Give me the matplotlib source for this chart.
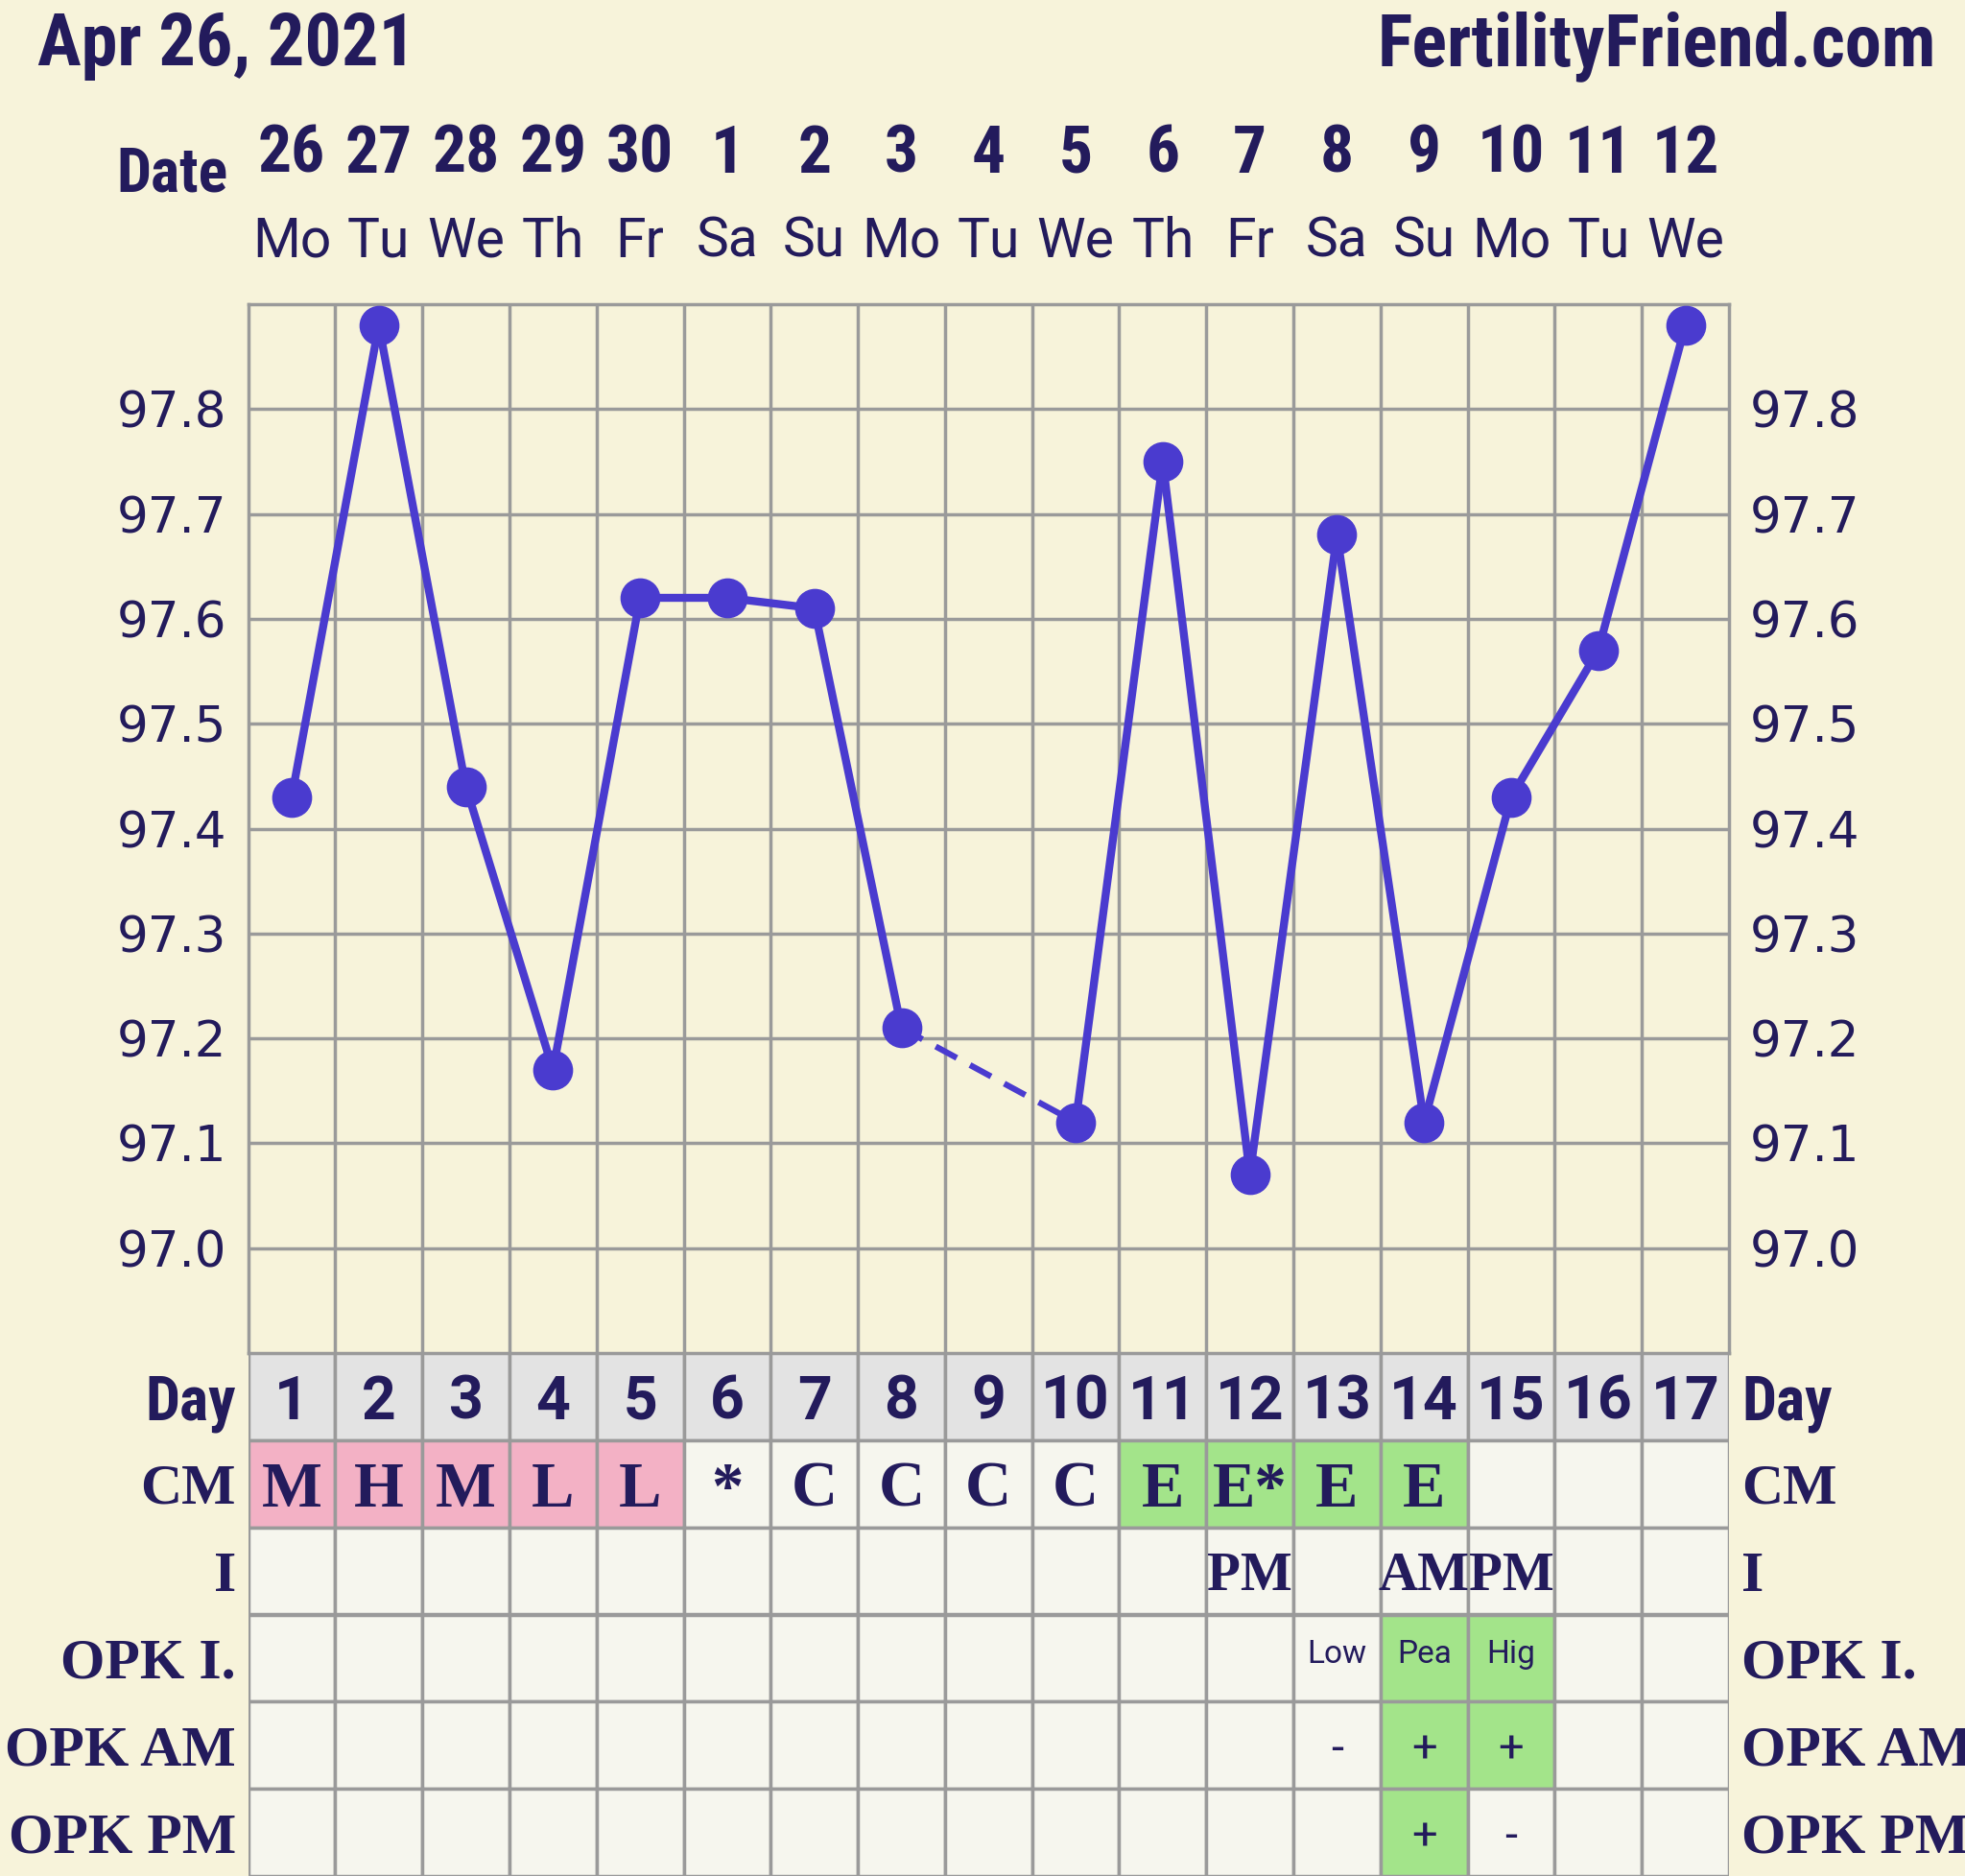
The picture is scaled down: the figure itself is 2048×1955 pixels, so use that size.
import matplotlib.pyplot as plt
import numpy as np
from matplotlib import font_manager
from matplotlib.transforms import blended_transform_factory

# chart data
cycle_days = list(range(1, 18))
dates = ['26', '27', '28', '29', '30', '1', '2', '3', '4', '5', '6', '7', '8', '9', '10', '11', '12']
weekdays = ['Mo', 'Tu', 'We', 'Th', 'Fr', 'Sa', 'Su', 'Mo', 'Tu', 'We', 'Th', 'Fr', 'Sa', 'Su', 'Mo', 'Tu', 'We']
temps = [97.43, 97.88, 97.44, 97.17, 97.62, 97.62, 97.61, 97.21, np.nan, 97.12,
         97.75, 97.07, 97.68, 97.12, 97.43, 97.57, 97.88]
temp_ticks = [97.0, 97.1, 97.2, 97.3, 97.4, 97.5, 97.6, 97.7, 97.8]

row_names = ['Day', 'CM', 'I', 'OPK I.', 'OPK AM', 'OPK PM']
cm = ['M', 'H', 'M', 'L', 'L', '*', 'C', 'C', 'C', 'C', 'E', 'E*', 'E', 'E', '', '', '']
intercourse = ['', '', '', '', '', '', '', '', '', '', '', 'PM', '', 'AM', 'PM', '', '']
opk_index = ['', '', '', '', '', '', '', '', '', '', '', '', 'Low', 'Pea', 'Hig', '', '']
opk_am = ['', '', '', '', '', '', '', '', '', '', '', '', '-', '+', '+', '', '']
opk_pm = ['', '', '', '', '', '', '', '', '', '', '', '', '', '+', '-', '', '']

# cell highlight: p = pink (menses), g = green (fertile / positive)
cm_marks = ['p', 'p', 'p', 'p', 'p', '', '', '', '', '', 'g', 'g', 'g', 'g', '', '', '']
opk_index_marks = ['', '', '', '', '', '', '', '', '', '', '', '', '', 'g', 'g', '', '']
opk_am_marks = ['', '', '', '', '', '', '', '', '', '', '', '', '', 'g', 'g', '', '']
opk_pm_marks = ['', '', '', '', '', '', '', '', '', '', '', '', '', 'g', '', '', '']

# colours
bg = '#f7f3da'
navy = '#231b5c'
line_c = '#4a3bcf'
grid_c = '#9a9a9a'
cell_c = '#f6f6ee'
day_c = '#e3e3e3'
mark_c = {'p': '#f3b1c5', 'g': '#a3e48a', '': cell_c}

installed = {f.name for f in font_manager.fontManager.ttflist}


def pick(*names):
    for n in names:
        if n in installed:
            return n
    return 'DejaVu Sans'


narrow = pick('Liberation Sans Narrow', 'Roboto Condensed', 'Roboto')
slab = pick('DejaVu Serif Condensed', 'Liberation Serif')
sans = pick('Roboto', 'DejaVu Sans')

W, H = 2048, 1955


def fx(px):
    return px / W


def fy(py):
    return 1 - py / H


fig = plt.figure(figsize=(W / 100, H / 100), dpi=100)
fig.patch.set_facecolor(bg)

left, right, top, mid = 258.6, 1802, 317, 1410
ax = fig.add_axes([fx(left), fy(mid), fx(right) - fx(left), fy(top) - fy(mid)])
ax2 = fig.add_axes([fx(left), 0, fx(right) - fx(left), fy(mid)])

# temperature chart
ax.set_facecolor(bg)
ax.set_xlim(0.5, 17.5)
ax.set_ylim(96.9, 97.9)
ax.set_yticks(temp_ticks)
ax.set_yticklabels([f'{t:.1f}' for t in temp_ticks])
ax.set_xticks(np.arange(1.5, 17, 1))
ax.set_xticklabels([])
ax.tick_params(length=0, labelsize=37, labelcolor=navy, labelleft=True, labelright=True, pad=16)
ax.grid(True, color=grid_c, lw=2.5)
ax.set_axisbelow(True)
for s in ax.spines.values():
    s.set_color(grid_c)
    s.set_linewidth(2.5)

valid = [i for i, t in enumerate(temps) if not np.isnan(t)]
for a, b in zip(valid[:-1], valid[1:]):
    if b - a == 1:
        ax.plot([cycle_days[a], cycle_days[b]], [temps[a], temps[b]], color=line_c, lw=6,
                solid_capstyle='round', zorder=3)
    else:
        ax.plot([cycle_days[a], cycle_days[b]], [temps[a], temps[b]], color=line_c, lw=4.5,
                ls=(0, (4, 2.5)), zorder=3)
ax.plot(cycle_days, temps, 'o', color=line_c, ms=29, zorder=4, clip_on=False)

# header
fig.text(fx(39), fy(68), 'Apr 26, 2021', family=narrow, weight='bold', fontsize=55,
         color=navy, ha='left', va='baseline')
fig.text(fx(2018), fy(68), 'FertilityFriend.com', family=narrow, weight='bold', fontsize=55,
         color=navy, ha='right', va='baseline')
fig.text(fx(238), fy(200), 'Date', family=narrow, weight='bold', fontsize=46,
         color=navy, ha='right', va='baseline')
tr_head = blended_transform_factory(ax.transData, fig.transFigure)
for d, lab, wd in zip(cycle_days, dates, weekdays):
    fig.text(d, fy(180), lab, transform=tr_head, family=narrow, weight='bold', fontsize=50,
             color=navy, ha='center', va='baseline')
    fig.text(d, fy(268), wd, transform=tr_head, family=sans, fontsize=41,
             color=navy, ha='center', va='baseline')

# observation table
ax2.set_xlim(0.5, 17.5)
ax2.set_ylim(6, 0)
ax2.axis('off')
fills = [[day_c] * 17,
         [mark_c[m] for m in cm_marks],
         [cell_c] * 17,
         [mark_c[m] for m in opk_index_marks],
         [mark_c[m] for m in opk_am_marks],
         [mark_c[m] for m in opk_pm_marks]]
for r, cols in enumerate(fills):
    ax2.bar(cycle_days, 1, bottom=r, width=1, color=cols, edgecolor=grid_c, linewidth=2.5)

cells = [[str(d) for d in cycle_days], cm, intercourse, opk_index, opk_am, opk_pm]
styles = [dict(family=sans, weight='bold', fontsize=45),
          dict(family=slab, weight='bold', fontsize=48),
          dict(family=slab, weight='bold', fontsize=41),
          dict(family=sans, fontsize=24),
          dict(family=sans, fontsize=34),
          dict(family=sans, fontsize=34)]
offsets = [0.5, 0.5, 0.5, 0.42, 0.5, 0.5]
for r, (vals, st) in enumerate(zip(cells, styles)):
    for d, v in zip(cycle_days, vals):
        if v:
            ax2.text(d, r + offsets[r], v, color=navy, ha='center', va='center_baseline', **st)

tr_row = blended_transform_factory(fig.transFigure, ax2.transData)
for r, name in enumerate(row_names):
    if r == 0:
        st = dict(family=narrow, weight='bold', fontsize=46)
    else:
        st = dict(family=slab, weight='bold', fontsize=43)
    ax2.text(fx(246), r + 0.5, name, transform=tr_row, color=navy, ha='right',
             va='center_baseline', **st)
    ax2.text(fx(1815), r + 0.5, name, transform=tr_row, color=navy, ha='left',
             va='center_baseline', **st)

fig.savefig('out.png', dpi=100, facecolor=bg)
